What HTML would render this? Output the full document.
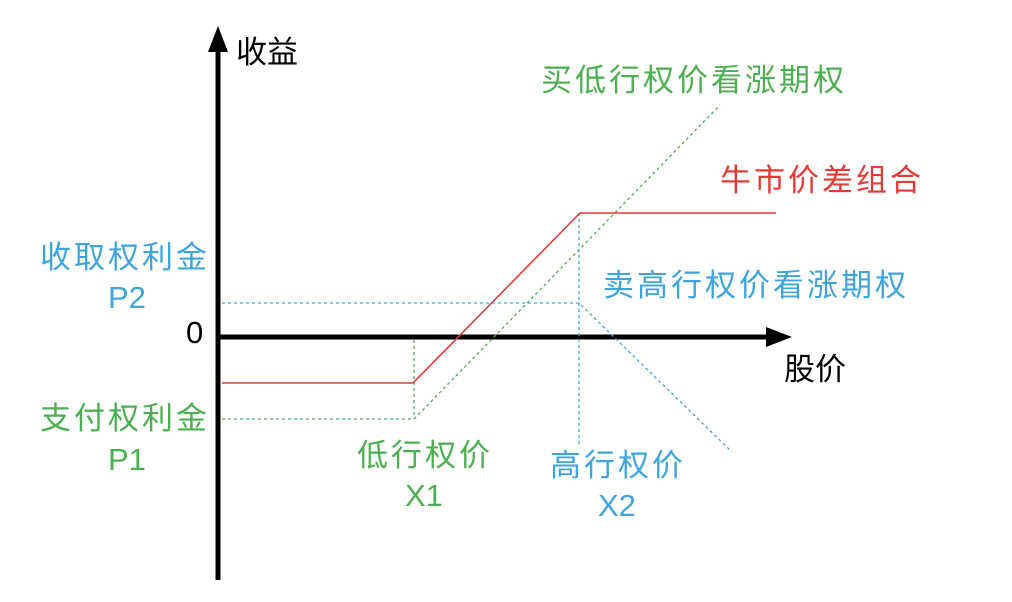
<!DOCTYPE html>
<html><head><meta charset="utf-8"><style>
html,body{margin:0;padding:0;background:#fff;}
svg{display:block;}
text{font-family:"Liberation Sans","Noto Sans CJK SC",sans-serif;font-size:31px;}
</style></head><body>
<svg width="1012" height="602" viewBox="0 0 1012 602">
<line x1="218" y1="580" x2="218" y2="48" stroke="#000" stroke-width="5"/>
<polygon points="218,26 208,52 228,52" fill="#000"/>
<line x1="218" y1="337" x2="770" y2="337" stroke="#000" stroke-width="5"/>
<polygon points="792,337 766,327 766,347" fill="#000"/>
<g stroke="#4caf50" stroke-width="1.3" stroke-dasharray="3,3" fill="none">
<polyline points="222,419 414,419 720,105"/>
<line x1="414" y1="340" x2="414" y2="419"/>
</g>
<g stroke="#3ea4dc" stroke-width="1.3" stroke-dasharray="3,3" fill="none">
<polyline points="222,303 579,303 732,452"/>
<line x1="579" y1="213" x2="579" y2="445"/>
</g>
<polyline points="222,383 413,383 580,213 776,213" stroke="#e53935" stroke-width="1.6" fill="none"/>
<text x="236" y="63" fill="#000" font-size="32">收益</text>
<text x="186" y="343" fill="#000" font-size="27">0</text>
<text x="784" y="380" fill="#000" font-size="32">股价</text>
<text x="541" y="91" fill="#4caf50" letter-spacing="3">买低行权价看涨期权</text>
<text x="720" y="191" fill="#e53935" letter-spacing="3">牛市价差组合</text>
<text x="40" y="268" fill="#3ea4dc" letter-spacing="3">收取权利金</text>
<text x="108" y="308" fill="#3ea4dc">P2</text>
<text x="603" y="296" fill="#3ea4dc" letter-spacing="3">卖高行权价看涨期权</text>
<text x="40" y="429" fill="#4caf50" letter-spacing="3">支付权利金</text>
<text x="108" y="470" fill="#4caf50">P1</text>
<text x="357" y="466" fill="#4caf50" letter-spacing="3">低行权价</text>
<text x="405" y="506" fill="#4caf50">X1</text>
<text x="550" y="476" fill="#3ea4dc" letter-spacing="3">高行权价</text>
<text x="598" y="516" fill="#3ea4dc">X2</text>
</svg>
</body></html>
